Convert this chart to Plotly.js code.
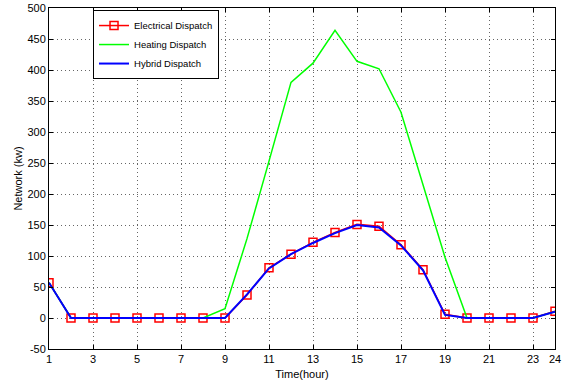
<!DOCTYPE html>
<html>
<head>
<meta charset="utf-8">
<script src="https://cdn.plot.ly/plotly-3.0.1.min.js"></script>
<style>html,body{margin:0;padding:0;background:#fff;}#chart{width:562px;height:387px;}</style>
</head>
<body>
<div id="chart"></div>
<script>
var hours = [1,2,3,4,5,6,7,8,9,10,11,12,13,14,15,16,17,18,19,20,21,22,23,24];
var electrical = [57,0,0,0,0,0,0,0,0,37,81,103,122,138,151,148,118,78,6,0,0,0,0,11];
var heating = [57,0,0,0,0,0,0,0,15,128,253,380,411,464,414,402,332,215,98,0,0,0,0,10];
var hybrid = [57,0,0,0,0,0,0,0,0,38,80,103,121,137,150,146,117,77,5,0,0,0,0,10];
var xTicks = [1,3,5,7,9,11,13,15,17,19,21,23,24];
var yTicks = [-50,0,50,100,150,200,250,300,350,400,450,500];

var font = "'Liberation Sans Narrow', 'Arial Narrow', 'Liberation Sans', Arial, sans-serif";

var traces = [
  {x: hours, y: electrical, name: 'Electrical Dispatch', mode: 'lines+markers',
   line: {color: '#ff0000', width: 1.5},
   marker: {symbol: 'square-open', size: 8, color: '#ff0000', line: {width: 1.5, color: '#ff0000'}}},
  {x: hours, y: heating, name: 'Heating Dispatch', mode: 'lines',
   line: {color: '#00ff00', width: 1.5}},
  {x: hours, y: hybrid, name: 'Hybrid Dispatch', mode: 'lines',
   line: {color: '#0000ff', width: 2}}
];

var axisCommon = {
  showline: true, linecolor: '#000', linewidth: 1, mirror: 'ticks',
  ticks: 'inside', ticklen: 4, tickcolor: '#000',
  showgrid: true, gridcolor: '#666', griddash: '1px,3px', gridwidth: 1,
  zeroline: false,
  tickfont: {family: font, size: 11, color: '#000'}
};

var layout = {
  width: 562, height: 387,
  margin: {l: 49, r: 7, t: 8, b: 38},
  paper_bgcolor: '#fff', plot_bgcolor: '#fff',
  showlegend: true,
  legend: {x: 0.087, y: 0.994, xanchor: 'left', yanchor: 'top',
    bgcolor: '#fff', bordercolor: '#000', borderwidth: 1,
    font: {family: font, size: 9.5, color: '#000'},
    tracegroupgap: 0, itemwidth: 30},
  xaxis: Object.assign({}, axisCommon, {
    range: [1, 24], tickmode: 'array', tickvals: xTicks, ticktext: xTicks.map(String),
    title: {text: 'Time(hour)', font: {family: font, size: 11, color: '#000'}, standoff: 6}
  }),
  yaxis: Object.assign({}, axisCommon, {
    range: [-50, 500], tickmode: 'array', tickvals: yTicks, ticktext: yTicks.map(String),
    title: {text: 'Network (kw)', font: {family: font, size: 11, color: '#000'}, standoff: 2}
  })
};

Plotly.newPlot('chart', traces, layout, {displayModeBar: false, staticPlot: true});
</script>
</body>
</html>
